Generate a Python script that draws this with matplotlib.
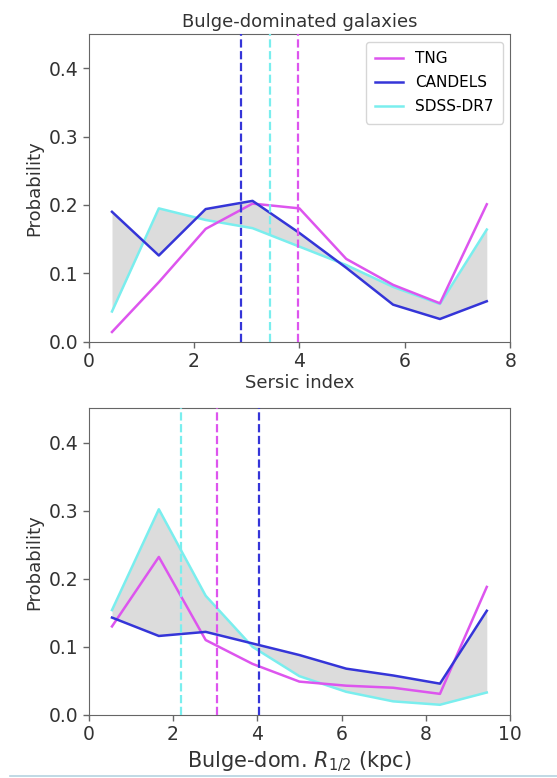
import numpy as np
import matplotlib
matplotlib.use("Agg")
import matplotlib.pyplot as plt
from matplotlib.lines import Line2D

# Sersic index distributions (9 bins over 0-8)
sersic_edges = np.linspace(0, 8, 10)
sersic_tng = [0.014, 0.087, 0.165, 0.202, 0.195, 0.121, 0.083, 0.056, 0.201]
sersic_candels = [0.190, 0.126, 0.194, 0.206, 0.159, 0.108, 0.054, 0.033, 0.059]
sersic_sdss = [0.044, 0.195, 0.178, 0.166, 0.139, 0.112, 0.080, 0.055, 0.164]
sersic_medians = {"TNG": 3.98, "CANDELS": 2.90, "SDSS-DR7": 3.44}

# Half-light radius distributions (9 bins over 0-10 kpc)
radius_edges = np.linspace(0, 10, 10)
radius_tng = [0.130, 0.232, 0.110, 0.075, 0.049, 0.043, 0.040, 0.031, 0.188]
radius_candels = [0.143, 0.116, 0.122, 0.105, 0.088, 0.068, 0.058, 0.046, 0.153]
radius_sdss = [0.154, 0.302, 0.175, 0.100, 0.057, 0.034, 0.020, 0.015, 0.033]
radius_medians = {"TNG": 3.05, "CANDELS": 4.04, "SDSS-DR7": 2.19}

colors = {"TNG": "#dd55ee", "CANDELS": "#3535d8", "SDSS-DR7": "#7aeeee"}

plt.rcParams["font.family"] = "DejaVu Sans"
plt.rcParams["axes.edgecolor"] = "#666666"
plt.rcParams["xtick.color"] = "#666666"
plt.rcParams["ytick.color"] = "#666666"
plt.rcParams["xtick.labelcolor"] = "#333333"
plt.rcParams["ytick.labelcolor"] = "#333333"

fig = plt.figure(figsize=(5.57, 7.78), dpi=100)
ax1 = fig.add_axes([0.159, 0.561, 0.757, 0.395])
ax2 = fig.add_axes([0.159, 0.081, 0.757, 0.394])


def draw_panel(ax, edges, tng, candels, sdss, medians):
    centers = 0.5 * (edges[:-1] + edges[1:])
    ax.fill_between(centers, sdss, candels, color="#dcdcdc", lw=0, zorder=1)
    ax.plot(centers, tng, color=colors["TNG"], lw=1.8, label="TNG", zorder=3)
    ax.plot(centers, candels, color=colors["CANDELS"], lw=1.8, label="CANDELS", zorder=3)
    ax.plot(centers, sdss, color=colors["SDSS-DR7"], lw=1.8, label="SDSS-DR7", zorder=2)
    for name, m in medians.items():
        ax.axvline(m, color=colors[name], ls="--", lw=1.6, zorder=4)
    ax.set_ylim(0, 0.45)
    ax.set_xlim(edges[0], edges[-1])
    ax.set_yticks([0.0, 0.1, 0.2, 0.3, 0.4])
    ax.tick_params(labelsize=13.5, length=4, width=1)
    ax.set_ylabel("Probability", fontsize=13, color="#333333")


draw_panel(ax1, sersic_edges, sersic_tng, sersic_candels, sersic_sdss, sersic_medians)
ax1.set_xticks([0, 2, 4, 6, 8])
ax1.set_xlabel("Sersic index", fontsize=13, color="#333333", labelpad=2)
ax1.set_title("Bulge-dominated galaxies", fontsize=13, color="#333333", pad=5)
ax1.legend(loc="upper right", fontsize=11, frameon=True, edgecolor="#cccccc",
           handlelength=1.8, borderpad=0.6, labelspacing=0.6)

draw_panel(ax2, radius_edges, radius_tng, radius_candels, radius_sdss, radius_medians)
ax2.set_xticks([0, 2, 4, 6, 8, 10])
ax2.set_xlabel(r"Bulge-dom. $R_{1/2}$ (kpc)", fontsize=15, color="#333333", labelpad=4)

fig.add_artist(Line2D([0.018, 1.0], [0.003, 0.003], transform=fig.transFigure,
                      color="#b5d3e0", lw=1.2))

fig.savefig("out.png", dpi=100)
